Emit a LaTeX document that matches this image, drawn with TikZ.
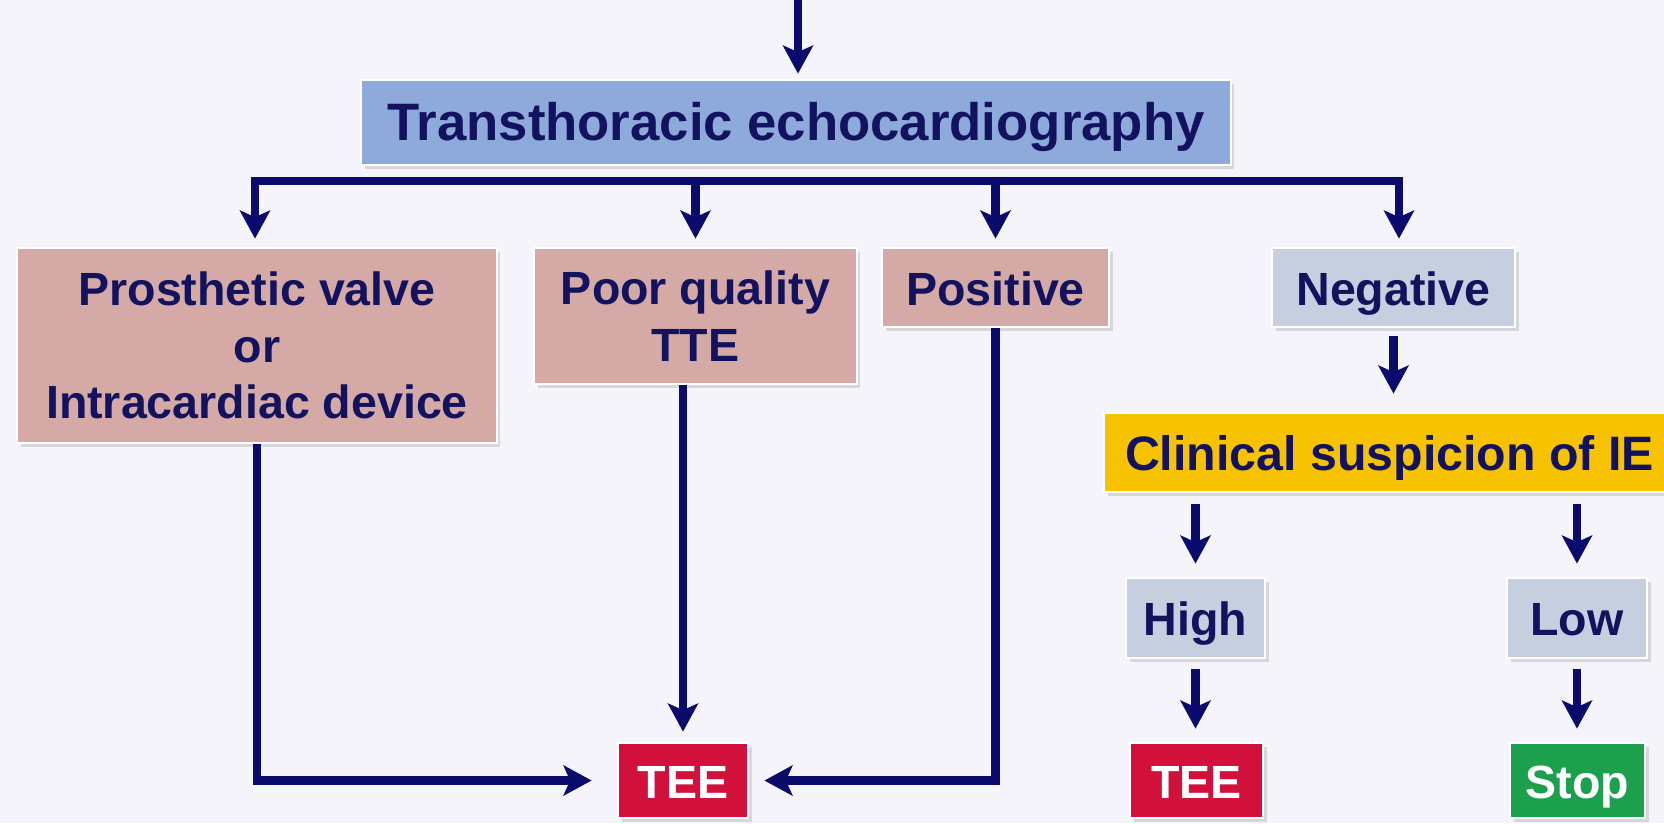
\documentclass[tikz,border=0pt]{standalone}
\usepackage{fontspec}
\setmainfont{Liberation Sans}
\usetikzlibrary{arrows.meta, shadows}

\definecolor{bgcol}{HTML}{F4F4FA}
\definecolor{linecol}{HTML}{0B0B6E}
\definecolor{txtcol}{HTML}{12125E}
\definecolor{ttecol}{HTML}{8DAADB}
\definecolor{pinkcol}{HTML}{D5A9A6}
\definecolor{greycol}{HTML}{C5CFDF}
\definecolor{yellowcol}{HTML}{F7C300}
\definecolor{redcol}{HTML}{D1103C}
\definecolor{greencol}{HTML}{1DA04E}

\begin{document}
\begin{tikzpicture}[x=0.02cm, y=-0.02cm,
    box/.style={draw=white, line width=1.6pt, inner sep=0pt, align=center,
      text=txtcol, font=\fontsize{26.5}{32.2}\selectfont\bfseries,
      drop shadow={shadow xshift=2pt, shadow yshift=-2.5pt, opacity=0.25}},
    oneline/.style={text height=0.7cm, text depth=0pt},
    link/.style={draw=linecol, line width=0.17cm},
    arr/.style={link, -{Stealth[length=0.56cm, width=0.6cm, inset=0.13cm]}}]

    % Background
    \fill[bgcol] (0,0) rectangle (1664,823);
    \useasboundingbox (0,0) rectangle (1664,823);

    % Top box
    \node[box, oneline, fill=ttecol, minimum width=17.4cm, minimum height=1.7cm,
      font=\fontsize{30}{36}\selectfont\bfseries] (tte) at (796,122.5) {Transthoracic echocardiography};

    % Findings
    \node[box, fill=pinkcol, minimum width=9.6cm, minimum height=3.9cm] (pv) at (257,345.5)
      {Prosthetic valve\\or\\Intracardiac device};
    \node[box, fill=pinkcol, minimum width=6.46cm, minimum height=2.72cm] (pq) at (695.5,316)
      {Poor quality\\TTE};
    \node[box, oneline, fill=pinkcol, minimum width=4.54cm, minimum height=1.58cm] (pos) at (995.5,287.5) {Positive};
    \node[box, oneline, fill=greycol, minimum width=4.86cm, minimum height=1.58cm] (neg) at (1393.5,287.5) {Negative};

    % Suspicion branch
    \node[box, oneline, fill=yellowcol, minimum width=11.42cm, minimum height=1.58cm,
      font=\fontsize{27.5}{33}\selectfont\bfseries] (clin) at (1389.5,452.5) {Clinical suspicion of IE};
    \node[box, oneline, fill=greycol, minimum width=2.78cm, minimum height=1.6cm] (high) at (1195.5,618) {High};
    \node[box, oneline, fill=greycol, minimum width=2.8cm, minimum height=1.6cm] (low) at (1577,618) {Low};

    % Outcomes
    \node[box, oneline, fill=redcol, text=white, minimum width=2.6cm, minimum height=1.5cm] (tee1) at (683,780.5) {TEE};
    \node[box, oneline, fill=redcol, text=white, minimum width=2.66cm, minimum height=1.5cm] (tee2) at (1196.5,780.5) {TEE};
    \node[box, oneline, fill=greencol, text=white, minimum width=2.7cm, minimum height=1.5cm] (stop) at (1577.5,780.5) {Stop};

    % Incoming arrow
    \coordinate (topin) at (798,0);
    \draw[arr, shorten >=0.1cm] (topin) -- (topin |- tte.north);

    % Branch bar
    \coordinate (barL) at (255,181);
    \coordinate (barR) at (1399,181);
    \draw[link, line cap=rect] (barL) -- (barR);
    \draw[arr, shorten >=0.16cm] (barL) -- (barL |- pv.north);
    \draw[arr, shorten >=0.16cm] (pq.north |- barL) -- (pq.north);
    \draw[arr, shorten >=0.16cm] (pos.north |- barL) -- (pos.north);
    \draw[arr, shorten >=0.16cm] (barR) -- (barR |- neg.north);

    % Routes to TEE
    \draw[arr, shorten >=0.5cm] (pv.south) |- (tee1.west);
    \draw[arr, shorten >=0.2cm] (tee1.north |- pq.south) -- (tee1.north);
    \draw[arr, shorten >=0.3cm] (pos.south) |- (tee1.east);

    % Negative result
    \draw[arr, shorten <=0.16cm, shorten >=0.36cm] (neg.south) -- (neg.south |- clin.north);
    \foreach \lvl/\out in {high/tee2, low/stop} {
      \draw[arr, shorten <=0.22cm, shorten >=0.26cm] (\lvl.north |- clin.south) -- (\lvl.north);
      \draw[arr, shorten <=0.2cm, shorten >=0.26cm] (\lvl.south) -- (\lvl.south |- \out.north);
    }
\end{tikzpicture}
\end{document}
